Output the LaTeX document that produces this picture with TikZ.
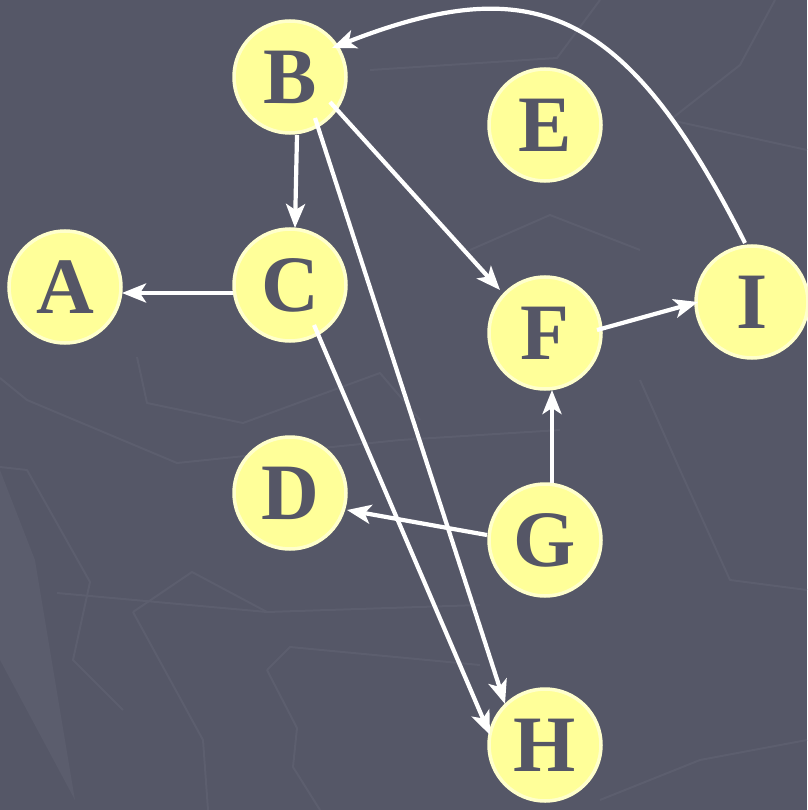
\documentclass[tikz,border=0pt]{standalone}
\usepackage{fontspec}
\newfontfamily\discfont{Liberation Serif}[BoldFont={Liberation Serif Bold}]
\usetikzlibrary{arrows.meta}
\definecolor{bgslate}{RGB}{85,87,103}
\definecolor{bgline}{RGB}{92,94,110}
\definecolor{bgneedle}{RGB}{91,93,109}
\definecolor{discfill}{RGB}{255,255,153}
\definecolor{discrim}{RGB}{255,255,204}
\definecolor{letter}{RGB}{85,86,102}
\tikzset{
  vertex/.style={circle, fill=discfill, draw=discrim, line width=3.5pt,
    minimum size=112pt, inner sep=0pt, text=letter,
    font=\discfont\bfseries\fontsize{80}{80}\selectfont},
  edge/.style={draw=white, line width=4.2pt,
    -{Stealth[length=24pt, width=19pt, inset=6pt]}},
  maptrace/.style={draw=bgline, line width=2pt, line join=round}
}
\begin{document}
\begin{tikzpicture}[x=1pt, y=-1pt]
  % backdrop
  \fill[bgslate] (0,0) rectangle (807,810);
  \useasboundingbox (0,0) rectangle (807,810);
  % faint map texture and compass needle
  \fill[bgneedle] (0,470) -- (35,560) -- (75,800) -- (0,660) -- cycle;
  \draw[maptrace] (0,378) -- (27,400) -- (177,463) -- (400,440) -- (560,430);
  \draw[maptrace] (137,357) -- (147,403) -- (243,423) -- (380,373) -- (420,420);
  \draw[maptrace] (0,467) -- (27,470) -- (90,582) -- (73,660) -- (123,710);
  \draw[maptrace] (57,593) -- (267,612) -- (480,605);
  \draw[maptrace] (133,612) -- (192,572) -- (267,612);
  \draw[maptrace] (133,612) -- (203,740) -- (208,810);
  \draw[maptrace] (267,670) -- (297,728) -- (293,767) -- (320,810);
  \draw[maptrace] (267,670) -- (290,647) -- (480,665);
  \draw[maptrace] (370,70) -- (557,58) -- (600,0);
  \draw[maptrace] (670,120) -- (740,65) -- (775,0);
  \draw[maptrace] (670,120) -- (807,150);
  \draw[maptrace] (470,250) -- (550,215) -- (640,250);
  \draw[maptrace] (640,380) -- (680,470) -- (730,580) -- (807,590);
  \draw[maptrace] (600,800) -- (700,760) -- (807,740);
  % vertices
  \node[vertex] (A) at (65,287) {A};
  \node[vertex] (B) at (290,77) {B};
  \node[vertex] (C) at (290,285) {C};
  \node[vertex] (D) at (290,493) {D};
  \node[vertex] (E) at (545,125) {E};
  \node[vertex] (F) at (545,333) {F};
  \node[vertex] (G) at (545,540) {G};
  \node[vertex] (H) at (545,745) {H};
  \node[vertex] (I) at (752,302) {I};
  % directed edges
  \draw[edge] ([shift={(7,58)}]B.center) -- ([shift={(5,-57)}]C.center);
  \draw[edge] ([shift={(-57,8)}]C.center) -- ([shift={(57,6)}]A.center);
  \draw[edge] ([shift={(40,25)}]B.center) -- ([shift={(-45,-43)}]F.center);
  \draw[edge] ([shift={(25,41)}]B.center) -- ([shift={(-40,-41)}]H.center);
  \draw[edge] ([shift={(24,40)}]C.center) -- ([shift={(-55,-10)}]H.center);
  \draw[edge] ([shift={(52,-3)}]F.center) -- ([shift={(-54,0)}]I.center);
  \draw[edge] ([shift={(7,-57)}]G.center) -- ([shift={(7,57)}]F.center);
  \draw[edge] ([shift={(-58,-5)}]G.center) -- ([shift={(57,17)}]D.center);
  \draw[edge] ([shift={(-7,-59)}]I.center) .. controls (625,5) and (532,-30) .. ([shift={(42,-29)}]B.center);
\end{tikzpicture}
\end{document}
